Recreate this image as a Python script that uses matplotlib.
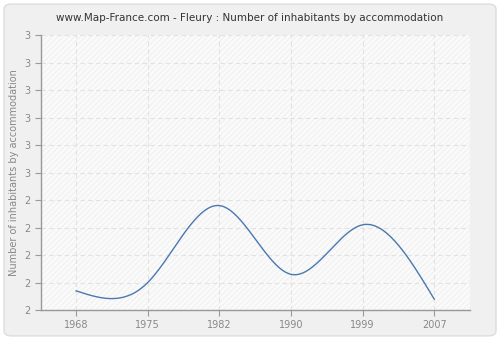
import matplotlib
matplotlib.use("Agg")
import matplotlib.pyplot as plt
from matplotlib.patches import FancyBboxPatch, Rectangle
import numpy as np

years = ["1968", "1975", "1982", "1990", "1999", "2007"]
values = [2.07, 2.10, 2.38, 2.13, 2.31, 2.04]
ytick_vals = [2.0, 2.1, 2.2, 2.3, 2.4, 2.5, 2.6, 2.7, 2.8, 2.9, 3.0]
ytick_labels = ["2", "2", "2", "2", "2", "3", "3", "3", "3", "3", "3"]


def natural_spline(x, y, n=300):
    # natural cubic spline, only used to draw the smooth line
    x = np.asarray(x, float)
    y = np.asarray(y, float)
    k = len(x)
    h = np.diff(x)
    A = np.zeros((k, k))
    b = np.zeros(k)
    A[0, 0] = A[-1, -1] = 1.0
    for i in range(1, k - 1):
        A[i, i - 1] = h[i - 1]
        A[i, i] = 2 * (h[i - 1] + h[i])
        A[i, i + 1] = h[i]
        b[i] = 3 * ((y[i + 1] - y[i]) / h[i] - (y[i] - y[i - 1]) / h[i - 1])
    c = np.linalg.solve(A, b)
    xs = np.linspace(x[0], x[-1], n)
    ys = np.empty_like(xs)
    for j, t in enumerate(xs):
        i = min(np.searchsorted(x, t, side="right") - 1, k - 2)
        d = t - x[i]
        bi = (y[i + 1] - y[i]) / h[i] - h[i] * (2 * c[i] + c[i + 1]) / 3
        di = (c[i + 1] - c[i]) / (3 * h[i])
        ys[j] = y[i] + bi * d + c[i] * d ** 2 + di * d ** 3
    return xs, ys


plt.rcParams["hatch.linewidth"] = 0.5
fig = plt.figure(figsize=(5, 3.4), dpi=100, facecolor="white")
fig.patches.append(FancyBboxPatch((0.008, 0.012), 0.984, 0.976,
                                  boxstyle="round,pad=0,rounding_size=0.015",
                                  transform=fig.transFigure, facecolor="#f0f0f0",
                                  edgecolor="#dddddd", linewidth=1, zorder=-10))

ax = fig.add_axes([0.082, 0.088, 0.858, 0.809])
ax.set_facecolor("#fafafa")
ax.add_patch(Rectangle((0, 0), 1, 1, transform=ax.transAxes, facecolor="none",
                       edgecolor="#ececec", hatch="//////", linewidth=0, zorder=0))

pos = np.arange(len(years))
xs, ys = natural_spline(pos, values)
ax.plot(xs, ys, color="#4a78b0", linewidth=1, zorder=3)

ax.set_xlim(-0.49, 5.5)
ax.set_ylim(2.0, 3.0)
ax.set_xticks(pos)
ax.set_xticklabels(years)
ax.set_yticks(ytick_vals)
ax.set_yticklabels(ytick_labels)
ax.tick_params(colors="#999999", labelsize=7, length=4, width=0.8)
ax.tick_params(axis="x", labelcolor="#888888")
ax.tick_params(axis="y", labelcolor="#888888")
ax.grid(True, color="#e2e2e2", linestyle=(0, (4, 3)), linewidth=0.8)
ax.set_axisbelow(True)
for s in ["top", "right"]:
    ax.spines[s].set_visible(False)
for s in ["left", "bottom"]:
    ax.spines[s].set_color("#999999")
    ax.spines[s].set_linewidth(1)

ax.set_ylabel("Number of inhabitants by accommodation", fontsize=7, color="#888888")
fig.text(0.5, 0.948, "www.Map-France.com - Fleury : Number of inhabitants by accommodation",
         ha="center", va="center", fontsize=7.5, color="#333333")

fig.savefig("out.png", dpi=100, facecolor=fig.get_facecolor())
